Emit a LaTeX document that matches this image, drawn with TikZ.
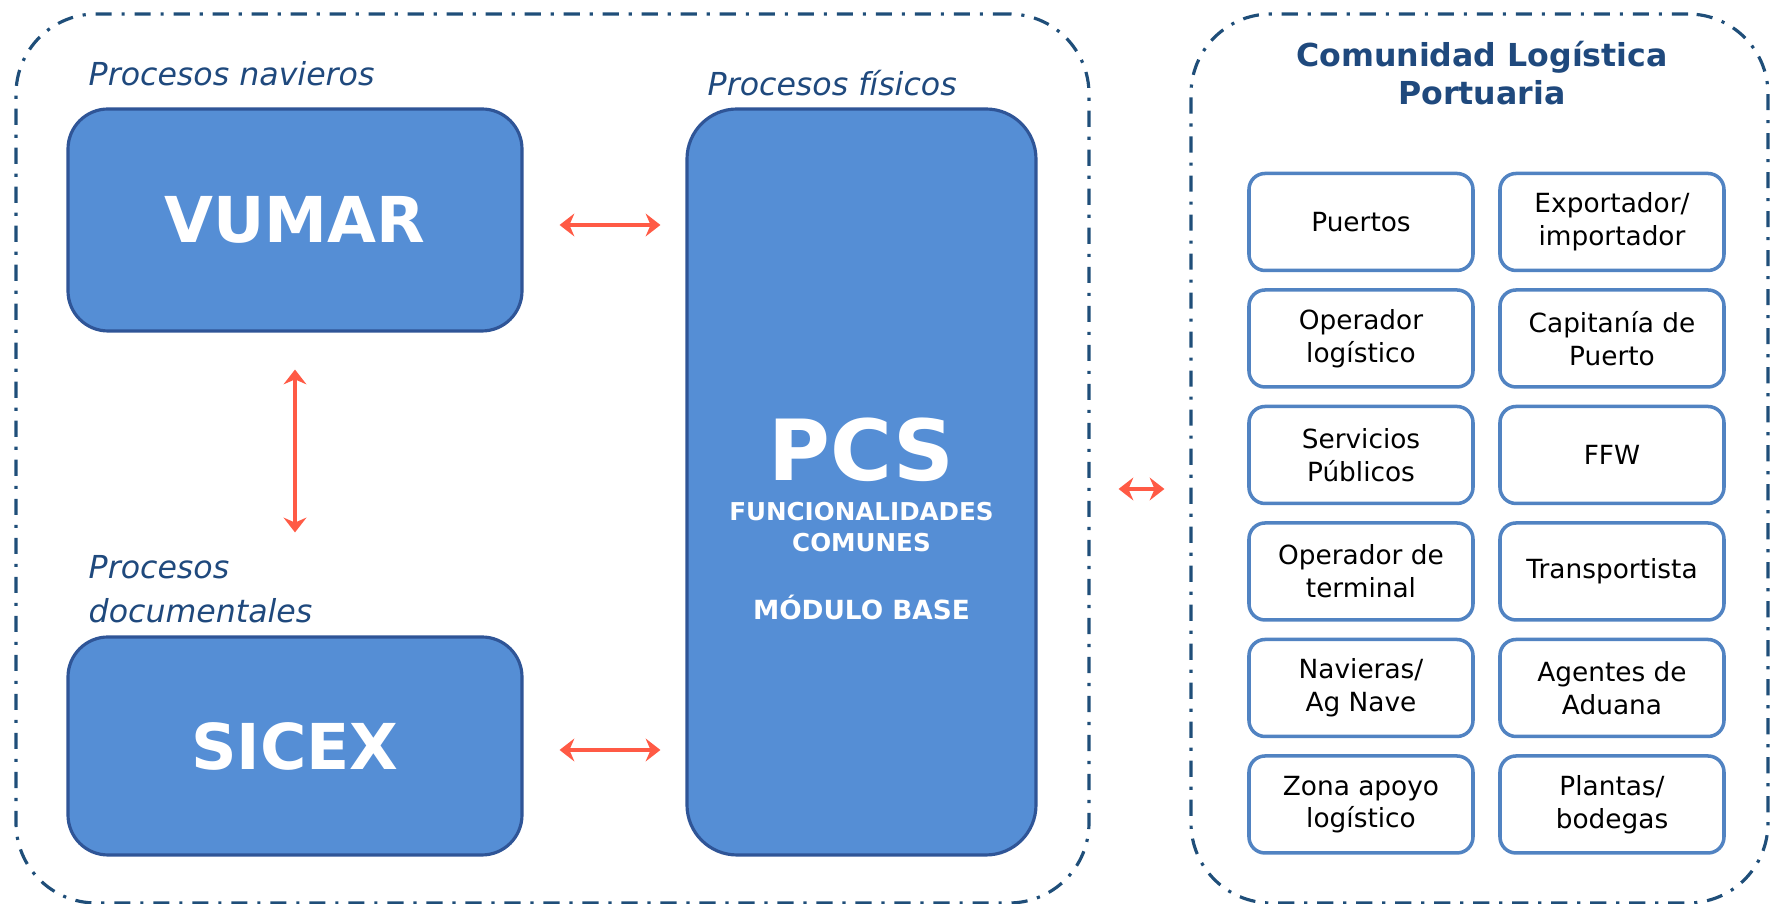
\documentclass[tikz,border=0pt]{standalone}
\usepackage{fontspec}
\setmainfont{DejaVu Sans}
\usetikzlibrary{arrows.meta}

\definecolor{cajaAzul}{HTML}{558ED5}
\definecolor{bordeAzul}{HTML}{2F5597}
\definecolor{marcoAzul}{HTML}{1F4E79}
\definecolor{textoAzul}{HTML}{1F497D}
\definecolor{actorAzul}{HTML}{5183C2}
\definecolor{flecha}{HTML}{FF5A45}

\newcommand*{\colA}{1361}
\newcommand*{\colB}{1612}
\newcommand*{\filaUno}{222}
\newcommand*{\paso}{116.5}

\tikzset{
  marco/.style={draw=marcoAzul, line width=0.9pt, rounded corners=8mm,
    dash pattern=on 4.6pt off 2.8pt on 0.9pt off 2.8pt},
  sistema/.style={draw=bordeAzul, fill=cajaAzul, line width=0.9pt,
    rounded corners=4mm, text=white, font=\bfseries},
  actor/.style={draw=actorAzul, line width=1pt, rounded corners=1.6mm,
    minimum width=22.4mm, minimum height=9.7mm, align=center,
    font=\fontsize{7.5}{9.3}\selectfont},
  proceso/.style={text=textoAzul, font=\itshape\fontsize{9}{12.5}\selectfont,
    anchor=west, align=left, inner sep=0pt},
  doble/.style={{Stealth[length=4.2pt,width=6.5pt,inset=1.4pt]}-{Stealth[length=4.2pt,width=6.5pt,inset=1.4pt]},
    draw=flecha, line width=1.3pt}
}

\begin{document}
\begin{tikzpicture}[x=0.1mm,y=-0.1mm]
    \useasboundingbox (0,0) rectangle (1775,904);

    % marcos punteados
    \node [marco, minimum width=107.3mm, minimum height=88.9mm] (entorno) at (552.5,458.5) {};
    \node [marco, minimum width=57.7mm, minimum height=88.9mm] (comunidad) at (1479.5,458.5) {};

    % sistemas
    \node [sistema, minimum width=45.4mm, minimum height=22.2mm, font=\bfseries\fontsize{18}{22}\selectfont] (vumar) at (295,220) {VUMAR};
    \node [sistema, minimum width=45.4mm, minimum height=21.8mm, font=\bfseries\fontsize{18}{22}\selectfont] (sicex) at (295,746) {SICEX};
    \node [sistema, rounded corners=5mm, minimum width=34.9mm, minimum height=74.6mm] (pcs) at (861.5,482) {};

    \node [text=white, font=\bfseries\fontsize{24}{27}\selectfont] (pcsNombre) at (861.5,450) {PCS};
    \node [text=white, align=center, font=\bfseries\fontsize{7}{9}\selectfont] (pcsFunc) at (861.5,527) {FUNCIONALIDADES\\COMUNES};
    \node [text=white, font=\bfseries\fontsize{7.5}{9}\selectfont] (pcsBase) at (861.5,607) {MÓDULO BASE};

    % etiquetas
    \node [proceso] (navieros) at (88,74) {Procesos navieros};
    \node [proceso] (fisicos) at (707,83) {Procesos físicos};
    \node [proceso] (documentales) at (88,589) {Procesos\\documentales};
    \node [text=textoAzul, align=center, font=\bfseries\fontsize{9}{11}\selectfont] (titulo) at (1482,73) {Comunidad Logística\\Portuaria};

    % actores
    \foreach \f/\c/\t in {1/\colA/{Puertos}, 1/\colB/{Exportador/\\importador},
        2/\colA/{Operador\\logístico}, 2/\colB/{Capitanía de\\Puerto},
        3/\colA/{Servicios\\Públicos}, 3/\colB/{FFW},
        4/\colA/{Operador de\\terminal}, 4/\colB/{Transportista},
        5/\colA/{Navieras/\\Ag Nave}, 5/\colB/{Agentes de\\Aduana},
        6/\colA/{Zona apoyo\\logístico}, 6/\colB/{Plantas/\\bodegas}} {
        \node [actor] (actor-\f-\c) at (\c,{\filaUno+(\f-1)*\paso}) {\t};
    }

    % flechas
    \draw [doble, shorten <=3.6mm, shorten >=2.5mm] ([yshift=-0.5mm]vumar.east) -- ([yshift=-0.5mm]vumar.east -| pcs.west);
    \draw [doble, shorten <=3.6mm, shorten >=2.5mm] ([yshift=-0.4mm]sicex.east) -- ([yshift=-0.4mm]sicex.east -| pcs.west);
    \draw [doble, shorten <=3.7mm, shorten >=10.3mm] (vumar.south) -- (sicex.north);
    \draw [doble, shorten <=8.1mm, shorten >=2.5mm] ([yshift=-0.7mm]pcs.east) -- ([yshift=-0.7mm]pcs.east -| comunidad.west);

\end{tikzpicture}
\end{document}
